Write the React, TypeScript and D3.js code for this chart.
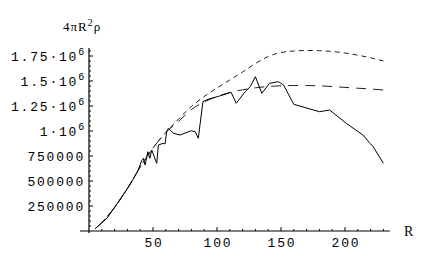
import * as d3 from 'd3';
import React from 'react';

// solid curve (measured data)
const dataR = [5, 14, 23, 31, 34, 38.5, 41, 42.5, 43.8, 46, 47.6, 49, 52.9, 54.2, 58, 59.4, 60.7, 62, 66, 71, 80, 83, 85.4, 89, 93, 102, 111, 115, 122, 126, 130, 135, 141, 148, 152, 160, 170, 180, 188, 201, 214, 219.5, 222, 230];
const dataV = [25000, 127000, 293000, 443000, 505000, 610000, 700000, 727000, 660000, 793000, 727000, 810000, 677000, 860000, 877000, 870000, 993000, 1027000, 977000, 960000, 1003000, 993000, 927000, 1293000, 1317000, 1350000, 1387000, 1277000, 1393000, 1443000, 1543000, 1377000, 1477000, 1493000, 1460000, 1267000, 1230000, 1193000, 1210000, 1077000, 960000, 877000, 843000, 677000];

// short-dashed model curve
const upperR = [5, 10, 20, 30, 40, 50, 60, 70, 80, 90, 100, 110, 120, 130, 140, 150, 160, 170, 180, 190, 200, 210, 220, 230];
const upperV = [25000, 85000, 235000, 425000, 640000, 830000, 985000, 1120000, 1245000, 1345000, 1430000, 1510000, 1590000, 1675000, 1745000, 1785000, 1800000, 1805000, 1803000, 1795000, 1780000, 1758000, 1732000, 1700000];

// long-dashed model curve
const lowerR = [5, 10, 20, 30, 40, 50, 60, 70, 80, 90, 100, 110, 120, 130, 140, 150, 160, 170, 180, 190, 200, 210, 220, 230];
const lowerV = [25000, 85000, 235000, 425000, 640000, 830000, 985000, 1095000, 1215000, 1290000, 1345000, 1385000, 1412000, 1432000, 1445000, 1452000, 1455000, 1455000, 1452000, 1445000, 1436000, 1428000, 1420000, 1410000];

const xTicks = [50, 100, 150, 200];
const yTicks = [250000, 500000, 750000, 1000000, 1250000, 1500000, 1750000];
const yTickMant = ['', '', '', '1', '1.25', '1.5', '1.75'];

const W = 421, H = 263;

const App = () => {
  const x = d3.scaleLinear().domain([0, 235]).range([89, 389.8]);
  const y = d3.scaleLinear().domain([0, 1830000]).range([231, 48]);

  const line = d3.line<[number, number]>().x(d => x(d[0])).y(d => y(d[1]));
  const smooth = d3.line<[number, number]>().x(d => x(d[0])).y(d => y(d[1])).curve(d3.curveMonotoneX);

  const solid = line(dataR.map((r, i) => [r, dataV[i]]));
  const upper = smooth(upperR.map((r, i) => [r, upperV[i]]));
  const lower = smooth(lowerR.map((r, i) => [r, lowerV[i]]));

  const x0 = x(0), y0 = y(0);
  const xMinor = d3.range(10, 235, 10).filter(v => v % 50 !== 0);
  const yMinor = d3.range(50000, 1830000, 50000).filter(v => v % 250000 !== 0);

  const mono = { fontFamily: '"Liberation Mono", monospace', fontSize: 13, letterSpacing: 1.8 };

  return (
    <svg width={W} height={H} style={{ position: 'absolute', left: 0, top: 0, background: '#fff' }}>
      {/* axes */}
      <line x1={80} x2={x(235)} y1={y0} y2={y0} stroke="#000" strokeWidth={1.2} />
      <line x1={x0} x2={x0} y1={y0 + 2} y2={y(1830000)} stroke="#000" strokeWidth={1.2} />
      {xTicks.map(t => <line key={'xt' + t} x1={x(t)} x2={x(t)} y1={y0} y2={y0 - 4} stroke="#000" />)}
      {xMinor.map(t => <line key={'xm' + t} x1={x(t)} x2={x(t)} y1={y0} y2={y0 - 2} stroke="#000" />)}
      {yTicks.map(t => <line key={'yt' + t} x1={x0} x2={x0 + 4} y1={y(t)} y2={y(t)} stroke="#000" />)}
      {yMinor.map(t => <line key={'ym' + t} x1={x0} x2={x0 + 2} y1={y(t)} y2={y(t)} stroke="#000" />)}

      {xTicks.map(t => (
        <text key={'xl' + t} x={x(t) + 1} y={y0 + 16} textAnchor="middle" style={mono}>{t}</text>
      ))}
      {yTicks.map((t, i) => (
        <text key={'yl' + t} x={yTickMant[i] ? 86 : 85} y={y(t) + 5} textAnchor="end" style={mono}>
          {yTickMant[i]
            ? <>{yTickMant[i]}·10<tspan dy={-6} fontSize={10}>6</tspan></>
            : t}
        </text>
      ))}

      <text x={404} y={236} style={{ fontFamily: '"Liberation Serif", serif', fontSize: 14 }}>R</text>
      <text x={63} y={31} style={{ fontFamily: '"Liberation Serif", serif', fontSize: 13, letterSpacing: 1 }}>
        4πR<tspan dy={-5} fontSize={10}>2</tspan><tspan dy={5}>ρ</tspan>
      </text>

      {/* curves */}
      <path d={upper ?? ''} fill="none" stroke="#222" strokeWidth={1} strokeDasharray="5,4" />
      <path d={lower ?? ''} fill="none" stroke="#222" strokeWidth={1} strokeDasharray="10,7" />
      <path d={solid ?? ''} fill="none" stroke="#000" strokeWidth={1} />
    </svg>
  );
};

export default App;
